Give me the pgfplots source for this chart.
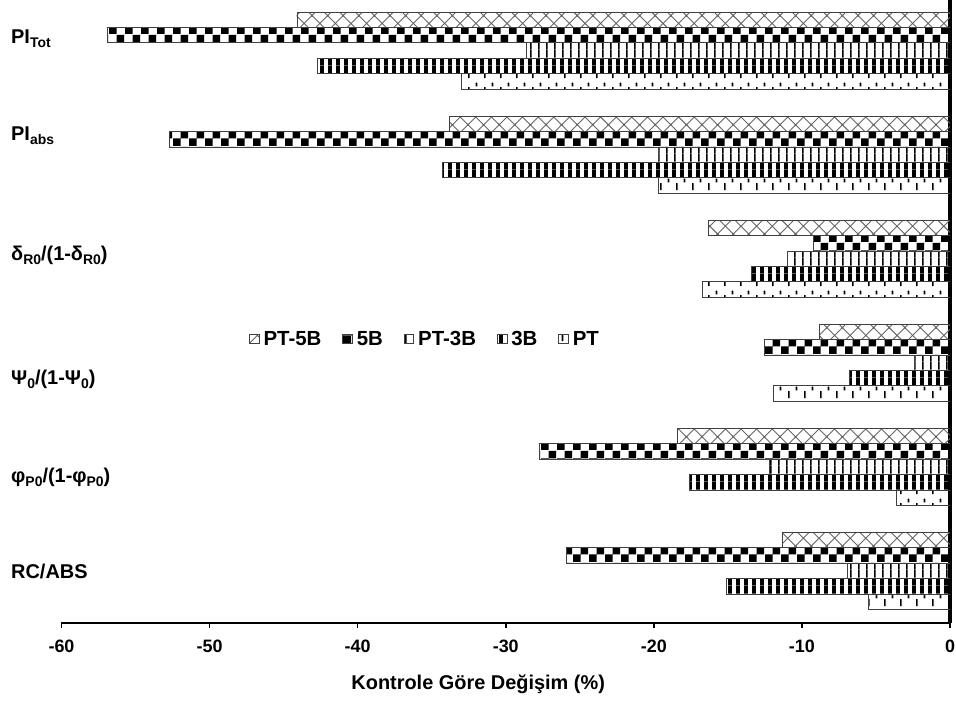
\documentclass[border=0pt]{standalone}
\usepackage{fontspec}
\setmainfont{Liberation Sans}
\usepackage{pgfplots}
\pgfplotsset{compat=1.18}
\usetikzlibrary{patterns}

\pgfdeclarepatternformonly{diagx}{\pgfpoint{-1bp}{-1bp}}{\pgfpoint{16.6bp}{16.6bp}}{\pgfpoint{15.6bp}{15.6bp}}{
  \pgfsetlinewidth{0.9bp}
  \pgfpathmoveto{\pgfpoint{-1bp}{-1bp}}\pgfpathlineto{\pgfpoint{16.6bp}{16.6bp}}
  \pgfpathmoveto{\pgfpoint{-1bp}{16.6bp}}\pgfpathlineto{\pgfpoint{16.6bp}{-1bp}}
  \pgfusepath{stroke}}
\pgfdeclarepatternformonly{checker}{\pgfpointorigin}{\pgfpoint{15.6bp}{15.6bp}}{\pgfpoint{15.6bp}{15.6bp}}{
  \pgfpathrectangle{\pgfpointorigin}{\pgfpoint{7.8bp}{7.8bp}}
  \pgfpathrectangle{\pgfpoint{7.8bp}{7.8bp}}{\pgfpoint{7.8bp}{7.8bp}}
  \pgfusepath{fill}}
\pgfdeclarepatternformonly{lightvert}{\pgfpointorigin}{\pgfpoint{7.8bp}{7.8bp}}{\pgfpoint{7.8bp}{7.8bp}}{
  \pgfpathrectangle{\pgfpointorigin}{\pgfpoint{1.7bp}{7.8bp}}
  \pgfusepath{fill}}
\pgfdeclarepatternformonly{darkvert}{\pgfpointorigin}{\pgfpoint{7.8bp}{7.8bp}}{\pgfpoint{7.8bp}{7.8bp}}{
  \pgfpathrectangle{\pgfpointorigin}{\pgfpoint{3.9bp}{7.8bp}}
  \pgfusepath{fill}}
\pgfdeclarepatternformonly{dashvert}{\pgfpointorigin}{\pgfpoint{15.6bp}{15.6bp}}{\pgfpoint{15.6bp}{15.6bp}}{
  \pgfpathrectangle{\pgfpoint{0bp}{2bp}}{\pgfpoint{1.7bp}{7bp}}
  \pgfpathrectangle{\pgfpoint{7.8bp}{9.8bp}}{\pgfpoint{1.7bp}{4bp}}
  \pgfusepath{fill}}

\newcommand{\sub}[1]{\raisebox{-4bp}{\fontsize{14}{14}\selectfont #1}}

\begin{document}
\begin{tikzpicture}
\pgfresetboundingbox
\begin{axis}[
  at={(0,0)}, anchor=south west, scale only axis,
  width=888.5bp, height=624.5bp,
  xbar, xmin=-60, xmax=0, ymin=-0.5, ymax=5.5,
  bar width=0.148,
  axis x line*=bottom, axis y line*=left,
  x axis line style={-, line width=2bp},
  y axis line style={draw=none},
  xtick={-60,-50,-40,-30,-20,-10,0},
  xticklabels={-60,-50,-40,-30,-20,-10,0},
  extra x ticks={0}, extra x tick labels={},
  extra x tick style={grid=major, major grid style={line width=3.5bp, black}, tick style={draw=none}},
  tick align=outside, major tick length=5bp,
  xtick style={line width=1.5bp, black},
  xticklabel style={font=\fontsize{18}{18}\selectfont\bfseries, yshift=-8bp},
  ytick={5.072,4.135,2.978,1.796,0.854,-0.077},
  yticklabels={{PI\sub{Tot}},{PI\sub{abs}},{δ\sub{R0}/(1-δ\sub{R0})},{Ψ\sub{0}/(1-Ψ\sub{0})},{φ\sub{P0}/(1-φ\sub{P0})},{RC/ABS}},
  ytick style={draw=none},
  yticklabel style={font=\fontsize{20}{20}\selectfont\bfseries, anchor=base west, inner sep=0pt, xshift=-45.5bp},
  xlabel={Kontrole Göre Değişim (\%)},
  xlabel style={font=\fontsize{20}{20}\selectfont\bfseries, at={(rel axis cs:0.469,0)}, anchor=base, yshift=-66bp},
  legend columns=5,
  legend style={at={(axis cs:-35.38,2.228)}, anchor=center, draw=none, fill=none,
    font=\fontsize{20.5}{20.5}\selectfont\bfseries,
    nodes={inner xsep=4bp},
    /tikz/every even column/.append style={column sep=17bp}},
  legend image code/.code={\draw[#1] (0bp,-4.5bp) rectangle (9.5bp,5bp);},
  every axis plot/.append style={draw=black!75, line width=0.8bp},
]
\addplot[pattern=diagx, pattern color=black!60, bar shift=0.296] coordinates {(-44.1,5) (-33.8,4) (-16.3,3) (-8.8,2) (-18.4,1) (-11.3,0)};
\addplot[pattern=checker, pattern color=black, bar shift=0.148] coordinates {(-56.9,5) (-52.7,4) (-9.2,3) (-12.5,2) (-27.7,1) (-25.9,0)};
\addplot[pattern=lightvert, pattern color=black, bar shift=0] coordinates {(-28.6,5) (-19.7,4) (-11.0,3) (-2.4,2) (-12.2,1) (-6.9,0)};
\addplot[pattern=darkvert, pattern color=black, bar shift=-0.148] coordinates {(-42.7,5) (-34.3,4) (-13.4,3) (-6.8,2) (-17.6,1) (-15.1,0)};
\addplot[pattern=dashvert, pattern color=black, bar shift=-0.296] coordinates {(-33.0,5) (-19.7,4) (-16.7,3) (-11.9,2) (-3.6,1) (-5.5,0)};
\legend{PT-5B,5B,PT-3B,3B,PT}
\end{axis}
\pgfresetboundingbox
\path[use as bounding box] (-61.5bp,-79bp) rectangle (894.5bp,623bp);
\end{tikzpicture}
\end{document}
